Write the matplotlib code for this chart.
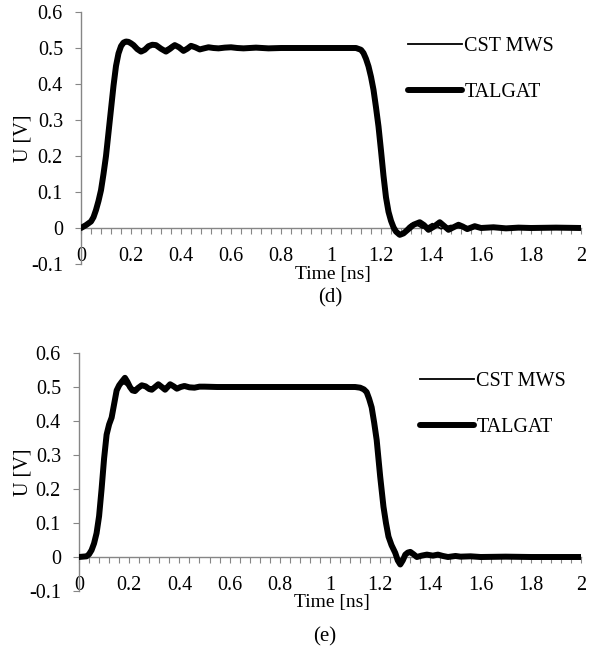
import matplotlib
matplotlib.use("Agg")
import matplotlib.pyplot as plt
from matplotlib.ticker import MultipleLocator, FixedLocator

plt.rcParams['font.family'] = ['Liberation Serif', 'DejaVu Serif']

# ---------------- data ----------------
# panel (d)
t_d_talgat = [0, 0.02, 0.04, 0.05, 0.06, 0.07, 0.08, 0.09, 0.10, 0.11, 0.12, 0.13, 0.14,
              0.15, 0.16, 0.17, 0.18, 0.19, 0.20, 0.21, 0.225, 0.24, 0.255, 0.27, 0.285,
              0.30, 0.32, 0.34, 0.357, 0.375, 0.392, 0.41, 0.425, 0.44, 0.457, 0.475,
              0.492, 0.51, 0.53, 0.55, 0.575, 0.6, 0.625, 0.65, 0.7, 0.75, 0.8, 0.9, 1.0,
              1.1, 1.12, 1.13, 1.14, 1.15, 1.16, 1.17, 1.18, 1.19, 1.20, 1.21, 1.22, 1.23,
              1.24, 1.25, 1.26, 1.275, 1.29, 1.30, 1.315, 1.33, 1.355, 1.372, 1.39, 1.412,
              1.435, 1.452, 1.47, 1.49, 1.51, 1.527, 1.545, 1.56, 1.575, 1.6, 1.65, 1.7,
              1.75, 1.8, 1.9, 2.0]
v_d_talgat = [0, 0.008, 0.018, 0.03, 0.05, 0.075, 0.105, 0.15, 0.20, 0.265, 0.33, 0.395, 0.45,
              0.485, 0.505, 0.515, 0.518, 0.517, 0.513, 0.508, 0.497, 0.49, 0.495, 0.505, 0.509,
              0.508, 0.498, 0.49, 0.498, 0.508, 0.502, 0.492, 0.498, 0.506, 0.502, 0.496,
              0.499, 0.502, 0.5, 0.499, 0.501, 0.502, 0.5, 0.499, 0.501, 0.499, 0.5, 0.5, 0.5,
              0.5, 0.495, 0.486, 0.47, 0.449, 0.42, 0.384, 0.335, 0.282, 0.215, 0.145, 0.085, 0.045,
              0.02, 0.002, -0.01, -0.019, -0.015, -0.009, 0.0, 0.009, 0.016, 0.008, -0.005, 0.004,
              0.016, 0.006, -0.005, 0.002, 0.009, 0.004, -0.003, 0.001, 0.005, 0.0, 0.002, -0.001,
              0.001, 0.0, 0.001, 0.0]
t_d_cst = [0, 0.02, 0.04, 0.05, 0.06, 0.07, 0.08, 0.09, 0.10, 0.11, 0.12, 0.13, 0.14,
           0.15, 0.16, 0.17, 0.18, 0.19, 0.20, 0.215, 0.235, 0.25, 0.265, 0.28, 0.29,
           0.31, 0.33, 0.348, 0.365, 0.382, 0.40, 0.418, 0.435, 0.452, 0.47, 0.49, 0.51,
           0.53, 0.55, 0.6, 0.65, 0.7, 0.75, 0.8, 0.9, 1.0,
           1.1, 1.12, 1.13, 1.14, 1.15, 1.16, 1.17, 1.18, 1.19, 1.20, 1.21, 1.22, 1.23,
           1.24, 1.25, 1.26, 1.27, 1.285, 1.295, 1.31, 1.32, 1.345, 1.365, 1.385, 1.405,
           1.42, 1.44, 1.46, 1.48, 1.50, 1.52, 1.54, 1.575, 1.62, 1.7, 1.8, 1.9, 2.0]
v_d_cst = [0, 0.008, 0.018, 0.03, 0.05, 0.075, 0.105, 0.15, 0.20, 0.265, 0.33, 0.395, 0.45,
           0.485, 0.505, 0.513, 0.515, 0.514, 0.51, 0.5, 0.492, 0.494, 0.503, 0.51, 0.509,
           0.5, 0.495, 0.502, 0.51, 0.503, 0.495, 0.5, 0.507, 0.5, 0.494, 0.5, 0.503,
           0.5, 0.498, 0.502, 0.499, 0.501, 0.499, 0.5, 0.5, 0.5,
           0.5, 0.495, 0.486, 0.47, 0.449, 0.42, 0.384, 0.335, 0.282, 0.215, 0.145, 0.085, 0.045,
           0.018, -0.002, -0.012, -0.016, -0.012, -0.006, 0.006, 0.011, 0.008, 0.0, 0.004, 0.012,
           0.006, -0.002, 0.003, 0.007, 0.002, 0.0, 0.004, 0.001, 0.0, 0.001, 0.0, 0.001, 0.0]

# panel (e)
t_e_talgat = [0, 0.03, 0.04, 0.05, 0.06, 0.07, 0.08, 0.09, 0.10, 0.11, 0.12, 0.13, 0.14,
              0.15, 0.16, 0.17, 0.183, 0.193, 0.203, 0.213, 0.223, 0.235, 0.25, 0.265,
              0.28, 0.29, 0.303, 0.316, 0.33, 0.343, 0.353, 0.363, 0.377, 0.39, 0.405,
              0.42, 0.44, 0.46, 0.48, 0.5, 0.55, 0.6, 0.7, 0.8, 0.9, 1.0, 1.1,
              1.12, 1.135, 1.146, 1.156, 1.166, 1.176, 1.186, 1.193, 1.20, 1.213, 1.223,
              1.233, 1.245, 1.26, 1.27, 1.28, 1.29, 1.30, 1.31, 1.32, 1.333, 1.346, 1.365,
              1.386, 1.41, 1.43, 1.45, 1.47, 1.5, 1.52, 1.56, 1.6, 1.7, 1.8, 1.9, 2.0]
v_e_talgat = [0, 0.002, 0.008, 0.02, 0.04, 0.07, 0.12, 0.20, 0.29, 0.36, 0.39, 0.41, 0.45,
              0.49, 0.505, 0.515, 0.527, 0.515, 0.50, 0.49, 0.488, 0.497, 0.505, 0.502,
              0.494, 0.492, 0.5, 0.508, 0.5, 0.492, 0.5, 0.508, 0.502, 0.495, 0.5,
              0.503, 0.499, 0.498, 0.501, 0.501, 0.5, 0.5, 0.5, 0.5, 0.5, 0.5, 0.5,
              0.498, 0.493, 0.485, 0.465, 0.44, 0.395, 0.344, 0.29, 0.236, 0.148, 0.10,
              0.06, 0.035, 0.012, -0.01, -0.022, -0.01, 0.007, 0.013, 0.015, 0.008, 0.0, 0.004,
              0.007, 0.004, 0.007, 0.003, 0.0, 0.003, 0.001, 0.002, 0.0, 0.001, 0.0, 0.0, 0.0]
t_e_cst = [0, 0.03, 0.04, 0.05, 0.06, 0.07, 0.08, 0.09, 0.10, 0.11, 0.12, 0.13, 0.14,
           0.15, 0.16, 0.17, 0.18, 0.19, 0.20, 0.21, 0.22, 0.232, 0.245, 0.26,
           0.28, 0.295, 0.31, 0.325, 0.34, 0.35, 0.36, 0.372, 0.385, 0.40,
           0.42, 0.44, 0.46, 0.48, 0.5, 0.55, 0.6, 0.7, 0.8, 0.9, 1.0, 1.1,
           1.12, 1.135, 1.146, 1.156, 1.166, 1.176, 1.186, 1.193, 1.20, 1.213, 1.223,
           1.233, 1.245, 1.26, 1.275, 1.285, 1.295, 1.305, 1.315, 1.33, 1.345, 1.36, 1.38,
           1.40, 1.42, 1.44, 1.46, 1.5, 1.52, 1.56, 1.6, 1.7, 1.8, 1.9, 2.0]
v_e_cst = [0, 0.002, 0.008, 0.02, 0.04, 0.07, 0.12, 0.20, 0.29, 0.36, 0.39, 0.41, 0.45,
           0.49, 0.502, 0.508, 0.51, 0.505, 0.498, 0.494, 0.495, 0.5, 0.504, 0.502,
           0.496, 0.497, 0.503, 0.504, 0.497, 0.496, 0.5, 0.504, 0.5, 0.497,
           0.501, 0.5, 0.499, 0.5, 0.501, 0.5, 0.5, 0.5, 0.5, 0.5, 0.5, 0.5,
           0.498, 0.493, 0.485, 0.465, 0.44, 0.395, 0.344, 0.29, 0.236, 0.148, 0.10,
           0.06, 0.035, 0.01, -0.012, -0.008, 0.006, 0.012, 0.01, 0.004, 0.002, 0.005, 0.006,
           0.003, 0.005, 0.002, 0.003, 0.001, 0.002, 0.0, 0.001, 0.0, 0.0, 0.0, 0.0]

series_names = ["CST MWS", "TALGAT"]
x_ticks = [0, 0.2, 0.4, 0.6, 0.8, 1, 1.2, 1.4, 1.6, 1.8, 2]
x_tick_labels = ["0", "0.2", "0.4", "0.6", "0.8", "1", "1.2", "1.4", "1.6", "1.8", "2"]
y_ticks = [-0.1, 0, 0.1, 0.2, 0.3, 0.4, 0.5, 0.6]
y_tick_labels = ["-0.1", "0", "0.1", "0.2", "0.3", "0.4", "0.5", "0.6"]
captions = ["(d)", "(e)"]

# ---------------- figure ----------------
W, H = 597, 655
fig = plt.figure(figsize=(W / 100, H / 100), dpi=100)

gray = "#868686"
fs_tick = 14.5
fs_leg = 14.5

panels = [
    dict(rect=(81, 12, 581, 264), data=(t_d_cst, v_d_cst, t_d_talgat, v_d_talgat),
         leg=(1.308, 0.44), cap=(330, 298), cap_txt=captions[0]),
    dict(rect=(79, 353, 581, 591), data=(t_e_cst, v_e_cst, t_e_talgat, v_e_talgat),
         leg=(1.359, 0.4485), cap=(325, 637), cap_txt=captions[1]),
]

for p in panels:
    x0, y0, x1, y1 = p['rect']
    ax = fig.add_axes([x0 / W, 1 - y1 / H, (x1 - x0) / W, (y1 - y0) / H])
    tc, vc, tt, vt = p['data']
    ax.plot(tt, vt, color='black', lw=4.3, solid_joinstyle='round',
            solid_capstyle='round', label=series_names[1], zorder=3)
    ax.plot(tc, vc, color='black', lw=1.3, solid_joinstyle='round',
            label=series_names[0], zorder=4)
    ax.set_xlim(0, 2)
    ax.set_ylim(-0.1, 0.6)

    for s in ['top', 'right']:
        ax.spines[s].set_visible(False)
    ax.spines['left'].set_color(gray)
    ax.spines['left'].set_linewidth(1.0)
    ax.spines['bottom'].set_position(('data', 0))
    ax.spines['bottom'].set_color(gray)
    ax.spines['bottom'].set_linewidth(1.0)

    ax.xaxis.set_major_locator(FixedLocator(x_ticks))
    ax.set_xticklabels(x_tick_labels)
    ax.xaxis.set_minor_locator(MultipleLocator(0.04))
    ax.yaxis.set_major_locator(FixedLocator(y_ticks))
    ax.set_yticklabels(y_tick_labels)
    ax.tick_params(axis='x', which='both', direction='out', length=4, width=0.8,
                   color=gray, pad=10, labelsize=fs_tick)
    ax.tick_params(axis='y', which='both', direction='out', length=4, width=0.8,
                   color=gray, pad=9, labelsize=fs_tick)

    handles, labels = ax.get_legend_handles_labels()
    order = [1, 0]
    ax.legend([handles[i] for i in order], [labels[i] for i in order],
              loc='center left', bbox_to_anchor=p['leg'],
              bbox_transform=ax.transData, frameon=False,
              fontsize=fs_leg, handlelength=2.7, handletextpad=0.1,
              labelspacing=1.35, borderpad=0, borderaxespad=0)

    fig.text((x0 + x1) / 2 / W + 0.003, 1 - (y1 + 11) / H, "Time [ns]",
             ha='center', va='center', fontsize=fs_tick - 0.5)
    fig.text(23 / W, 1 - (y0 + y1) / 2 / H, "U [V]", rotation=90,
             ha='center', va='center', fontsize=fs_tick)
    fig.text(p['cap'][0] / W, 1 - p['cap'][1] / H, p['cap_txt'],
             ha='center', va='center', fontsize=fs_leg + 0.5)

fig.savefig("out.png", dpi=100)
